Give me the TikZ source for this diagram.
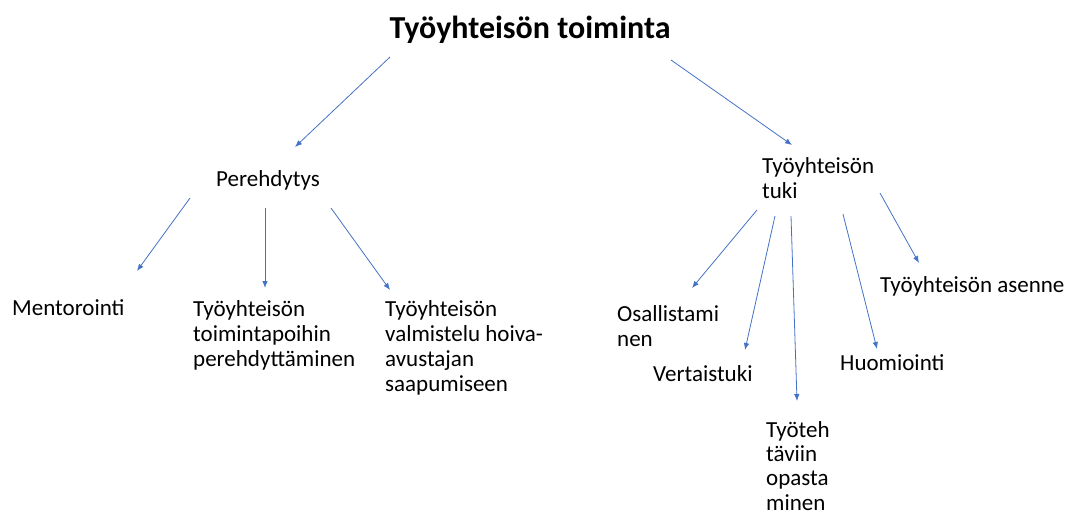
\documentclass[tikz,border=0pt]{standalone}
\usepackage{fontspec}
\setmainfont{Carlito}
\usetikzlibrary{arrows.meta}
\definecolor{arrowblue}{HTML}{4472C4}
\tikzset{
  lbl/.style={inner sep=0pt, align=left, font=\fontsize{23}{24.8}\selectfont, text=black},
  ttl/.style={inner sep=0pt, font=\fontsize{32}{36}\selectfont\bfseries, text=black},
  conn/.style={draw=arrowblue, line width=0.8pt, -{Latex[length=7pt,width=5.5pt]}}
}
\begin{document}
\begin{tikzpicture}[x=1pt,y=-1pt]
\useasboundingbox (0,0) rectangle (1074,515);
% texts
\node[ttl, anchor=base] (title) at (530,38) {Työyhteisön toiminta};
\node[lbl, anchor=north west] (pere) at (216,170.5) {Perehdytys};
\node[lbl, anchor=north west] (tuki) at (762,157.5) {Työyhteisön\\tuki};
\node[lbl, anchor=north west] (ment) at (12,299.5) {Mentorointi};
\node[lbl, anchor=north west] (toim) at (193,300.5) {Työyhteisön\\toimintapoihin\\perehdyttäminen};
\node[lbl, anchor=north west] (valm) at (385,300.5) {Työyhteisön\\valmistelu hoiva-\\avustajan\\saapumiseen};
\node[lbl, anchor=north west] (osal) at (617,305.5) {Osallistami\\nen};
\node[lbl, anchor=north west] (vert) at (653,365.5) {Vertaistuki};
\node[lbl, anchor=north west, font=\fontsize{23}{24.3}\selectfont] (tyot) at (766,421) {Työteh\\täviin\\opasta\\minen};
\node[lbl, anchor=north west] (huom) at (840,354.5) {Huomiointi};
\node[lbl, anchor=north west] (asen) at (880,276.5) {Työyhteisön asenne};
% connector ends
\coordinate (t1) at (390,57);  \coordinate (p1) at (295,147);
\coordinate (t2) at (671,60);  \coordinate (k1) at (792,145);
\coordinate (pa) at (190,198); \coordinate (ma) at (137,271);
\coordinate (pb) at (265,208); \coordinate (tb) at (265,288);
\coordinate (pc) at (331,208); \coordinate (vc) at (390,290);
\coordinate (ka) at (757,210); \coordinate (oa) at (692,288);
\coordinate (kb) at (775,216); \coordinate (vb) at (745,350);
\coordinate (kc) at (791,216); \coordinate (yc) at (797,401);
\coordinate (kd) at (843,214); \coordinate (hd) at (877,349);
\coordinate (ke) at (880,193); \coordinate (ae) at (919,263);
% connectors
\draw[conn] (t1) -- (p1);
\draw[conn] (t2) -- (k1);
\draw[conn] (pa) -- (ma);
\draw[conn] (pb) -- (tb);
\draw[conn] (pc) -- (vc);
\draw[conn] (ka) -- (oa);
\draw[conn] (kb) -- (vb);
\draw[conn] (kc) -- (yc);
\draw[conn] (kd) -- (hd);
\draw[conn] (ke) -- (ae);
\end{tikzpicture}
\end{document}
